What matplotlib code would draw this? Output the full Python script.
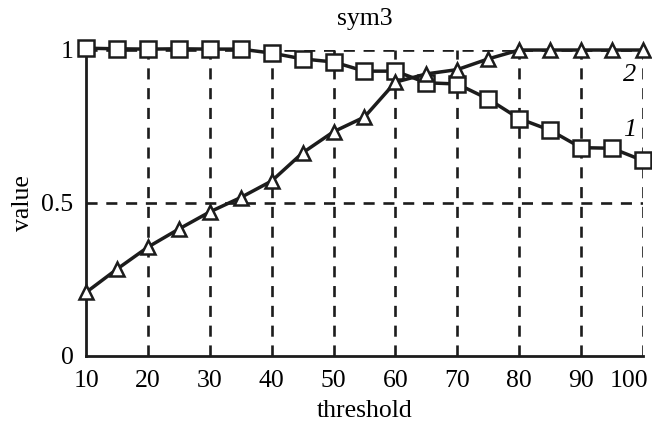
import matplotlib
matplotlib.use("Agg")
import matplotlib.pyplot as plt
from matplotlib.transforms import ScaledTranslation

plt.rcParams['font.family'] = ['Liberation Serif', 'DejaVu Serif']

threshold = [10, 15, 20, 25, 30, 35, 40, 45, 50, 55, 60, 65, 70, 75, 80, 85, 90, 95, 100]
curve1 = [1.005, 1.003, 1.002, 1.003, 1.002, 1.002, 0.989, 0.970, 0.960, 0.930, 0.930,
          0.892, 0.888, 0.839, 0.775, 0.737, 0.680, 0.678, 0.638]
curve2 = [0.207, 0.283, 0.355, 0.414, 0.470, 0.517, 0.571, 0.663, 0.732, 0.780, 0.894,
          0.921, 0.935, 0.970, 0.999, 0.999, 0.999, 0.999, 0.999]
xticks = [10, 20, 30, 40, 50, 60, 70, 80, 90, 100]
yticks = [0, 0.5, 1]
ytick_labels = ['0', '0.5', '1']

fig = plt.figure(figsize=(6.52, 4.25), dpi=100)
ax = fig.add_axes([0.132, 0.163, 0.854, 0.720])

ink = '#1c1c1c'
# dashed grid
for x in xticks[1:]:
    ax.axvline(x, color=ink, lw=1.9, ls=(0, (4.2, 3.3)), zorder=1)
for y in yticks[1:]:
    ax.axhline(y, color=ink, lw=1.9, ls=(0, (4.2, 3.3)), zorder=1)

ax.plot(threshold, curve1, color=ink, lw=2.5, marker='s', ms=11,
        mfc='white', mec=ink, mew=1.8, clip_on=False, zorder=3)
ax.plot(threshold, curve2, color=ink, lw=2.5, marker='^', ms=10,
        mfc='white', mec=ink, mew=1.8, clip_on=False, zorder=3)

ax.text(97.9, 0.917, '2', fontsize=19, style='italic', ha='center', va='center')
ax.text(97.9, 0.737, '1', fontsize=19, style='italic', ha='center', va='center')

ax.set_xlim(10, 100)
ax.set_ylim(0, 1)
ax.set_xticks(xticks)
ax.set_yticks(yticks)
ax.set_yticklabels(ytick_labels)
ax.tick_params(length=0, labelsize=18.5)
ax.tick_params(axis='x', pad=10)
ax.tick_params(axis='y', pad=9)
last = ax.get_xticklabels()[-1]
last.set_horizontalalignment('right')
last.set_transform(last.get_transform() + ScaledTranslation(5 / 100, 0, fig.dpi_scale_trans))
ax.spines['top'].set_visible(False)
ax.spines['right'].set_visible(False)
ax.spines['left'].set_linewidth(2)
ax.spines['bottom'].set_linewidth(2)
ax.spines['left'].set_color(ink)
ax.spines['bottom'].set_color(ink)

ax.set_xlabel('threshold', fontsize=18.5, labelpad=6)
ax.set_ylabel('value', fontsize=18.5, labelpad=5)
ax.set_title('sym3', fontsize=18.5, pad=18)

fig.savefig('out.png', dpi=100)
